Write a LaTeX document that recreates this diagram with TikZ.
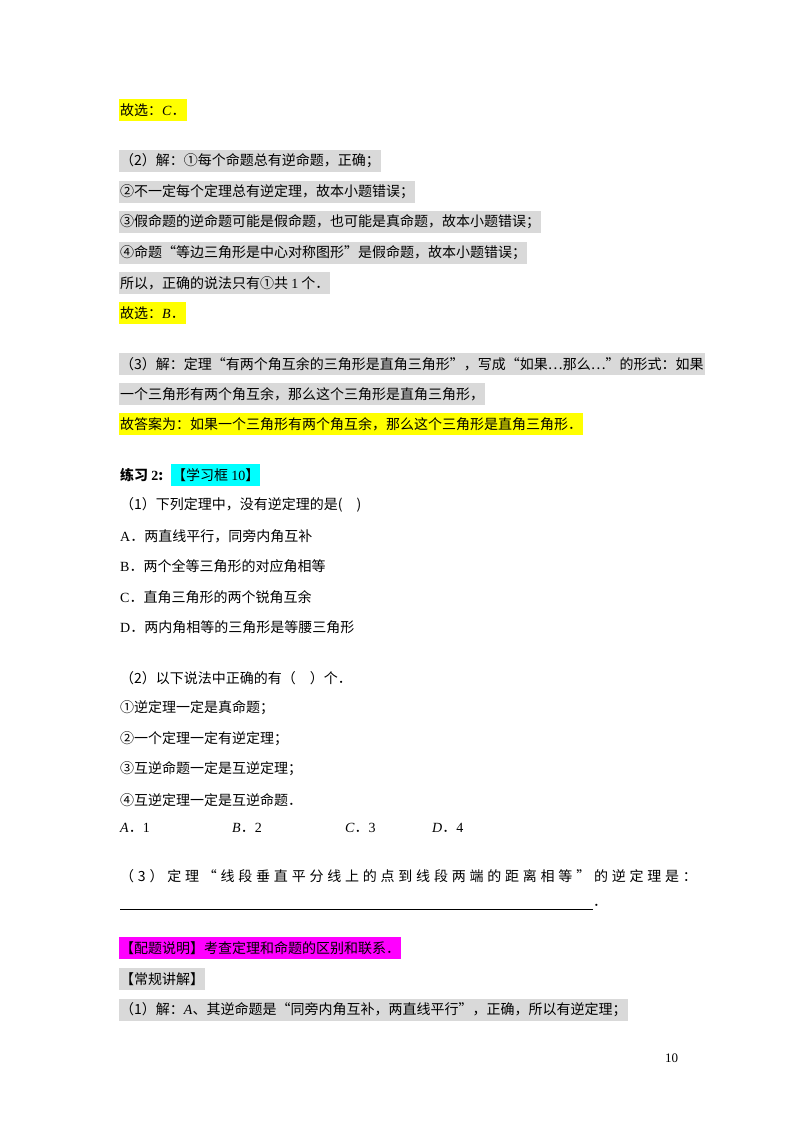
\documentclass[tikz,border=0pt]{standalone}
\usepackage{fontspec}
\setmainfont{Noto Sans CJK SC}
\newfontfamily\lat{Liberation Serif}
\newfontfamily\spaced[LetterSpace=27]{Noto Sans CJK SC}
\definecolor{hgray}{HTML}{D9D9D9}
\definecolor{hyel}{HTML}{FFFF00}
\definecolor{hcyan}{HTML}{00FFFF}
\definecolor{hmag}{HTML}{FF00FF}
\tikzset{tx/.style={anchor=west,inner xsep=1pt,inner ysep=0pt,minimum height=22pt,font=\fontsize{14}{16}\selectfont,text=black}}
\newcommand\tl[4]{\node[tx,fill=#2] (#1) at (119,#3) {#4};}
\begin{document}
\begin{tikzpicture}[x=1pt,y=-1pt]
\useasboundingbox[fill=white] (0,0) rectangle (800,1132);
\tl{a1}{hyel}{110}{故选：{\lat\itshape C}．}
\tl{a2}{hgray}{161}{（2）解：①每个命题总有逆命题，正确；}
\tl{a3}{hgray}{192}{②不一定每个定理总有逆定理，故本小题错误；}
\tl{a4}{hgray}{222}{③假命题的逆命题可能是假命题，也可能是真命题，故本小题错误；}
\tl{a5}{hgray}{253}{④命题“等边三角形是中心对称图形”是假命题，故本小题错误；}
\tl{a6}{hgray}{283}{所以，正确的说法只有①共 {\lat 1} 个．}
\tl{a7}{hyel}{313}{故选：{\lat\itshape B}．}
\tl{a8}{hgray}{364}{（3）解：定理“有两个角互余的三角形是直角三角形”，写成“如果…那么…”的形式：如果}
\tl{a9}{hgray}{394}{一个三角形有两个角互余，那么这个三角形是直角三角形，}
\tl{a10}{hyel}{424}{故答案为：如果一个三角形有两个角互余，那么这个三角形是直角三角形．}
\tl{b0}{white}{475}{\bfseries 练习 {\lat 2}:}
\node[tx,fill=hcyan] (b0b) at (171,475) {【学习框 {\lat 10}】};
\tl{b1}{white}{505}{（1）下列定理中，没有逆定理的是(\quad )}
\tl{b2}{white}{536}{{\lat A}．两直线平行，同旁内角互补}
\tl{b3}{white}{566}{{\lat B}．两个全等三角形的对应角相等}
\tl{b4}{white}{597}{{\lat C}．直角三角形的两个锐角互余}
\tl{b5}{white}{627}{{\lat D}．两内角相等的三角形是等腰三角形}
\tl{c1}{white}{678}{（2）以下说法中正确的有（\quad ）个．}
\tl{c2}{white}{708}{①逆定理一定是真命题；}
\tl{c3}{white}{739}{②一个定理一定有逆定理；}
\tl{c4}{white}{769}{③互逆命题一定是互逆定理；}
\tl{c5}{white}{800}{④互逆定理一定是互逆命题．}
\tl{d1}{white}{828}{{\lat\itshape A}．{\lat 1}}
\node[tx] (d2) at (231,828) {{\lat\itshape B}．{\lat 2}};
\node[tx] (d3) at (344,828) {{\lat\itshape C}．{\lat 3}};
\node[tx] (d4) at (431,828) {{\lat\itshape D}．{\lat 4}};
\tl{e1}{white}{876}{\spaced （3）定理“线段垂直平分线上的点到线段两端的距离相等”的逆定理是：}
\coordinate (u1) at (120,909);
\coordinate (u2) at (593,909);
\draw[line width=0.6pt] (u1) -- (u2);
\node[tx] (e2) at (592,905) {．};
\tl{f1}{hmag}{948}{【配题说明】考查定理和命题的区别和联系．}
\tl{f2}{hgray}{979}{【常规讲解】}
\tl{f3}{hgray}{1010}{（1）解：{\lat\itshape A}、其逆命题是“同旁内角互补，两直线平行”，正确，所以有逆定理；}
\node[tx,font=\lat\fontsize{13}{15}\selectfont] (pg) at (664,1058) {10};
\end{tikzpicture}
\end{document}
